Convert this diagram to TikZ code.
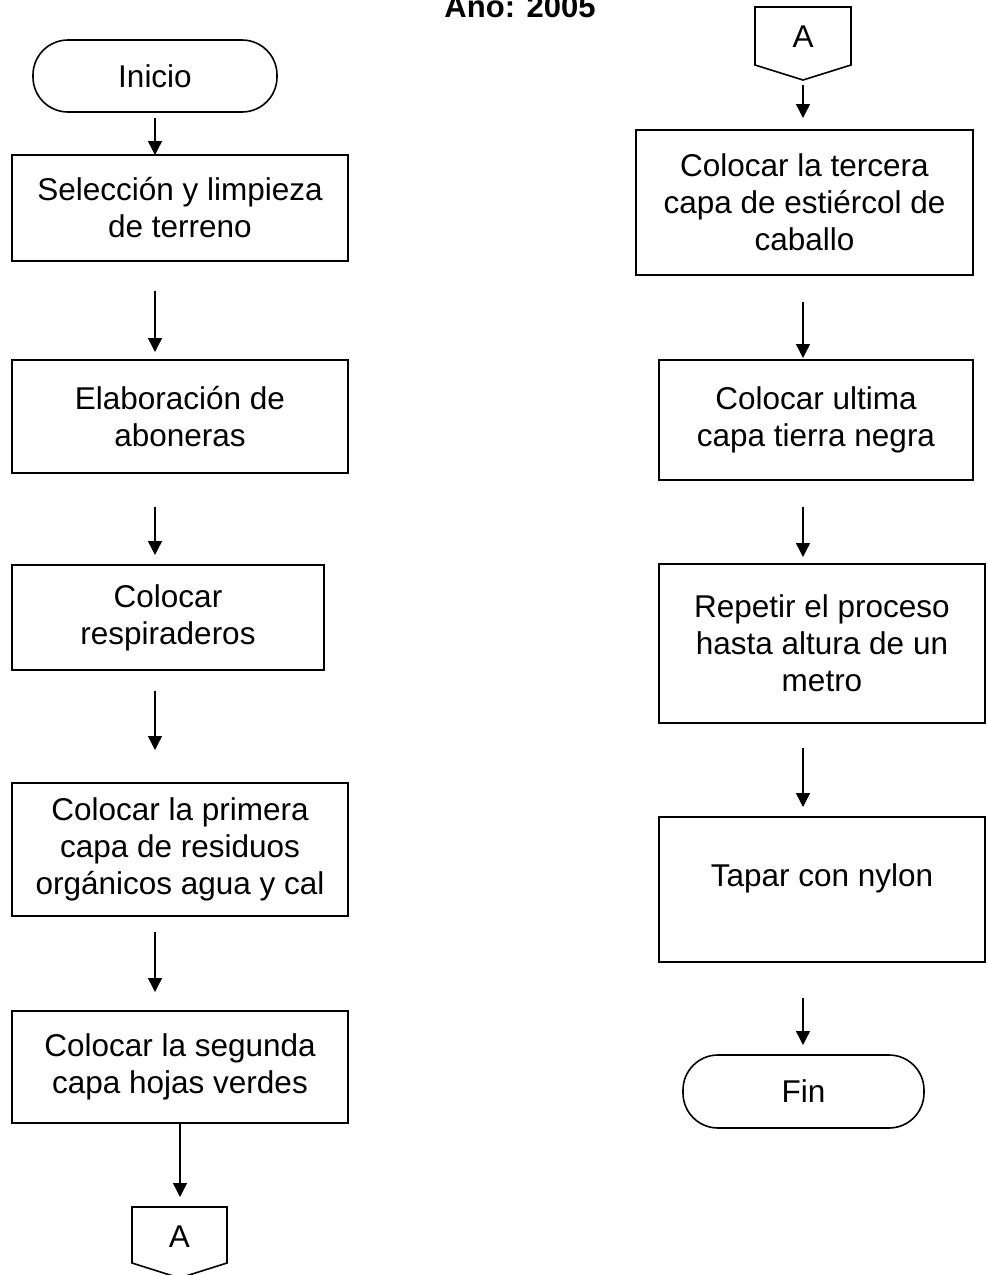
\documentclass[tikz,border=0pt]{standalone}
\usepackage{fontspec}
\setmainfont{Liberation Sans}
\usetikzlibrary{arrows.meta}
\tikzset{
  box/.style={draw, line width=1.6pt, inner sep=0pt, align=center,
    font=\fontsize{31.5}{37}\selectfont},
  term/.style={box, rounded corners=35pt},
  conn/.style={inner sep=0pt, font=\fontsize{31.5}{37}\selectfont},
  shp/.style={draw, line width=1.6pt, line join=miter},
  arr/.style={line width=1.4pt, -{Triangle[length=14pt,width=14pt]}}
}
\begin{document}
\begin{tikzpicture}[x=1pt,y=-1pt]
\useasboundingbox (0,0) rectangle (987,1275);
% title
\node[anchor=base, inner sep=0pt, font=\fontsize{31}{36}\selectfont\bfseries] (title) at (520,17) {Año: 2005};
% left column
\node[term, minimum width=244pt, minimum height=72pt] (ini) at (155,76) {Inicio};
\node[box, minimum width=336pt, minimum height=106pt] (b1) at (180,208) {Selección y limpieza\\de terreno};
\node[box, minimum width=336pt, minimum height=113pt] (b2) at (180,416.5) {Elaboración de\\aboneras};
\node[box, minimum width=312pt, minimum height=105pt] (b3) at (168,617.5) {Colocar\\respiraderos};
\node[box, minimum width=336pt, minimum height=133pt] (b4) at (180,849.5) {Colocar la primera\\capa de residuos\\orgánicos agua y cal};
\node[box, minimum width=336pt, minimum height=112pt] (b5) at (180,1067) {Colocar la segunda\\capa hojas verdes};
\node[conn] (ca1) at (179.5,1237) {A};
\draw[shp] ([shift={(-47.5,-30)}]ca1.center) -- ([shift={(47.5,-30)}]ca1.center) -- ([shift={(47.5,26)}]ca1.center) -- ([shift={(0,41)}]ca1.center) -- ([shift={(-47.5,26)}]ca1.center) -- cycle;
% right column
\node[conn] (ca2) at (803,37) {A};
\draw[shp] ([shift={(-48,-30)}]ca2.center) -- ([shift={(48,-30)}]ca2.center) -- ([shift={(48,28)}]ca2.center) -- ([shift={(0,43)}]ca2.center) -- ([shift={(-48,28)}]ca2.center) -- cycle;
\node[box, minimum width=337pt, minimum height=145pt] (r1) at (804.5,202.5) {Colocar la tercera\\capa de estiércol de\\caballo};
\node[box, minimum width=314pt, minimum height=120pt] (r2) at (816,420) {Colocar ultima\\capa tierra negra};
\node[box, minimum width=326pt, minimum height=159pt] (r3) at (822,643.5) {Repetir el proceso\\hasta altura de un\\metro};
\node[box, minimum width=326pt, minimum height=145pt] (r4) at (822,889.5) {\raisebox{3.5pt}[0pt][0pt]{Tapar con nylon}};
\node[term, minimum width=241pt, minimum height=73pt] (fin) at (803.5,1091.5) {Fin};
% arrow end points
\coordinate (l0s) at (155,118);  \coordinate (l0e) at (155,155);
\coordinate (l1s) at (155,291);  \coordinate (l1e) at (155,352);
\coordinate (l2s) at (155,507);  \coordinate (l2e) at (155,555);
\coordinate (l3s) at (155,691);  \coordinate (l3e) at (155,750);
\coordinate (l4s) at (155,932);  \coordinate (l4e) at (155,992);
\coordinate (l5e) at (180,1197);
\coordinate (r0s) at (803,85);   \coordinate (r0e) at (803,118);
\coordinate (r1s) at (803,302);  \coordinate (r1e) at (803,358);
\coordinate (r2s) at (803,507);  \coordinate (r2e) at (803,557);
\coordinate (r3s) at (803,748);  \coordinate (r3e) at (803,807);
\coordinate (r4s) at (803,998);  \coordinate (r4e) at (803,1045);
% arrows
\draw[arr] (l0s) -- (l0e);
\draw[arr] (l1s) -- (l1e);
\draw[arr] (l2s) -- (l2e);
\draw[arr] (l3s) -- (l3e);
\draw[arr] (l4s) -- (l4e);
\draw[arr] (b5.south) -- (l5e);
\draw[arr] (r0s) -- (r0e);
\draw[arr] (r1s) -- (r1e);
\draw[arr] (r2s) -- (r2e);
\draw[arr] (r3s) -- (r3e);
\draw[arr] (r4s) -- (r4e);
\end{tikzpicture}
\end{document}
